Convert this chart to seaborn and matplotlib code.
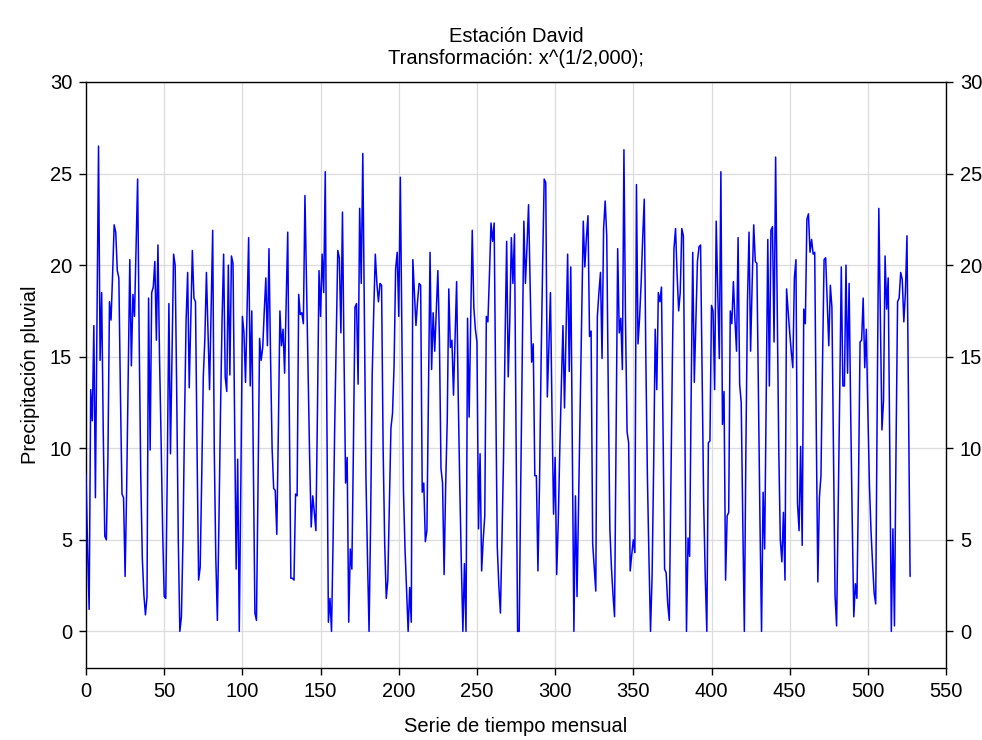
import numpy as np
import pandas as pd
import matplotlib
matplotlib.use("Agg")
import matplotlib.pyplot as plt
import seaborn as sns

# Monthly series (square-root transformed precipitation), one row per year
year_values = [
    [8.6, 4.5, 1.2, 13.2, 11.5, 16.7, 7.3, 17.0, 26.5, 14.8, 18.5, 11.0],
    [5.2, 5.0, 9.5, 18.0, 17.0, 19.5, 22.2, 21.8, 19.7, 19.3, 13.0, 7.5],
    [7.3, 3.0, 7.9, 14.0, 20.3, 14.5, 18.4, 17.2, 21.0, 24.7, 16.0, 8.5],
    [4.0, 2.0, 0.9, 1.9, 18.2, 9.9, 18.5, 18.8, 20.2, 15.9, 21.1, 15.0],
    [10.5, 5.5, 1.9, 1.8, 9.0, 17.9, 9.7, 15.0, 20.6, 20.0, 13.0, 5.0],
    [0.0, 0.8, 5.0, 11.5, 17.0, 19.6, 13.3, 17.0, 20.8, 18.2, 18.0, 10.0],
    [2.8, 3.5, 8.5, 13.9, 16.0, 19.6, 16.5, 13.2, 17.5, 21.9, 10.0, 4.0],
    [0.6, 6.0, 12.0, 17.0, 20.6, 13.9, 13.1, 20.0, 14.0, 20.5, 20.1, 12.0],
    [3.4, 9.4, 0.0, 8.0, 17.2, 16.3, 13.6, 17.5, 21.5, 13.4, 17.5, 9.0],
    [1.0, 0.6, 8.0, 16.0, 14.8, 15.5, 17.5, 19.3, 15.6, 20.9, 15.0, 10.0],
    [7.8, 7.7, 5.3, 11.0, 17.5, 15.6, 16.5, 14.1, 18.0, 21.8, 12.0, 2.9],
    [2.9, 2.8, 7.5, 7.4, 18.4, 17.3, 17.4, 16.8, 23.8, 19.0, 14.0, 9.5],
    [5.7, 7.4, 6.5, 5.5, 12.0, 19.7, 17.2, 20.6, 18.5, 25.1, 12.0, 0.5],
    [1.8, 0.0, 5.0, 11.0, 16.0, 20.8, 20.4, 16.3, 22.9, 15.0, 8.1, 9.5],
    [0.5, 4.5, 3.4, 10.0, 17.7, 17.9, 13.5, 23.1, 19.0, 26.1, 17.0, 8.5],
    [4.0, 0.0, 6.0, 14.0, 17.5, 20.6, 19.0, 18.0, 19.0, 18.9, 10.0, 4.8],
    [1.8, 2.8, 7.0, 11.1, 11.9, 14.5, 19.8, 20.7, 17.2, 24.8, 16.0, 7.7],
    [4.5, 2.3, 0.0, 2.4, 0.5, 20.3, 18.5, 16.7, 18.0, 19.0, 18.9, 7.6],
    [8.1, 4.9, 5.5, 13.0, 20.7, 14.3, 17.4, 15.3, 17.5, 19.7, 16.0, 8.9],
    [8.1, 3.1, 8.0, 11.5, 18.7, 15.5, 15.9, 12.9, 16.0, 19.1, 13.0, 8.0],
    [3.8, 0.0, 3.7, 0.0, 17.1, 11.7, 17.0, 21.9, 17.7, 16.5, 15.8, 5.6],
    [9.7, 3.3, 5.0, 6.3, 17.2, 16.9, 19.5, 22.3, 21.3, 22.3, 13.0, 4.6],
    [2.5, 1.0, 5.0, 9.5, 16.0, 21.3, 13.9, 17.0, 21.5, 19.0, 21.7, 11.0],
    [0.0, 0.0, 8.0, 15.0, 22.4, 19.0, 21.0, 23.3, 19.0, 14.7, 15.7, 8.5],
    [8.5, 3.3, 8.0, 14.6, 20.0, 24.7, 24.5, 12.8, 15.5, 18.5, 12.0, 6.4],
    [9.5, 3.1, 6.0, 10.0, 13.5, 16.7, 12.2, 16.5, 20.6, 14.2, 19.9, 10.0],
    [0.0, 7.4, 1.9, 7.0, 12.0, 17.0, 22.4, 19.9, 21.5, 22.7, 16.1, 16.4],
    [4.8, 3.5, 2.2, 17.2, 18.5, 19.6, 14.9, 22.0, 23.5, 21.6, 13.0, 5.6],
    [3.5, 2.0, 0.8, 11.0, 20.9, 16.3, 17.1, 14.3, 26.3, 17.0, 10.9, 10.3],
    [3.3, 4.2, 5.0, 4.3, 24.4, 15.7, 17.1, 19.0, 21.5, 23.6, 15.0, 8.5],
    [4.0, 0.0, 3.0, 9.0, 16.5, 13.2, 18.5, 18.0, 18.8, 11.0, 3.4, 3.2],
    [1.5, 0.6, 8.0, 15.0, 20.9, 22.0, 19.5, 17.5, 18.5, 22.0, 21.6, 11.0],
    [0.0, 5.1, 4.1, 13.0, 20.7, 13.6, 17.0, 20.2, 21.0, 21.1, 14.0, 7.0],
    [3.0, 0.0, 10.3, 10.4, 17.8, 17.5, 13.2, 22.4, 18.5, 14.9, 25.1, 11.3],
    [13.1, 2.8, 6.3, 6.5, 17.5, 16.8, 19.1, 17.0, 15.3, 21.5, 13.5, 12.5],
    [6.0, 0.0, 10.0, 18.0, 21.8, 15.3, 19.0, 22.2, 20.2, 20.1, 13.0, 6.0],
    [0.0, 7.6, 4.5, 13.0, 21.4, 13.4, 21.9, 22.1, 15.8, 25.9, 18.0, 10.0],
    [5.0, 3.8, 6.5, 2.8, 18.7, 17.5, 16.3, 15.3, 14.4, 19.3, 20.3, 7.0],
    [5.5, 10.1, 4.7, 17.6, 16.8, 22.5, 22.8, 20.7, 21.4, 20.6, 20.7, 11.0],
    [2.7, 7.3, 8.5, 14.7, 20.3, 20.4, 18.0, 15.6, 18.9, 17.7, 10.0, 2.0],
    [0.3, 6.5, 13.0, 19.9, 13.4, 13.4, 20.0, 14.1, 19.0, 12.0, 6.0, 0.8],
    [2.6, 1.8, 8.0, 15.8, 15.9, 18.2, 14.4, 16.5, 12.0, 8.0, 5.5, 3.7],
    [2.1, 1.5, 12.7, 23.1, 17.0, 11.0, 12.6, 20.5, 17.6, 19.3, 10.0, 0.0],
    [5.6, 0.3, 10.0, 18.0, 18.2, 19.6, 19.2, 16.9, 18.5, 21.6, 12.0, 3.0],
]

x_ticks = list(range(0, 551, 50))
y_ticks = list(range(0, 31, 5))

title_1 = "Estación David"
title_2 = "Transformación: x^(1/2,000);"
x_label = "Serie de tiempo mensual"
y_label = "Precipitación pluvial"

values = [v for row in year_values for v in row]
df = pd.DataFrame({"mes": np.arange(len(values)), "valor": values})

sns.set_style("white")
plt.rcParams["font.family"] = ["Liberation Sans", "DejaVu Sans"]
plt.rcParams["text.color"] = "black"

FS = 14.5

fig = plt.figure(figsize=(9.82, 7.40), dpi=100)
ax = fig.add_axes([0.0876, 0.0973, 0.8758, 0.7919])

ax.grid(True, color="#dcdcdc", linewidth=0.9)
ax.set_axisbelow(True)

sns.lineplot(data=df, x="mes", y="valor", ax=ax, color="#0000ff",
             linewidth=1.1, estimator=None, zorder=3)

ax.set_xlim(0, 550)
ax.set_ylim(-2, 30)
ax.set_xticks(x_ticks)
ax.set_yticks(y_ticks)
ax.set_xlabel("")
ax.set_ylabel("")

for spine in ax.spines.values():
    spine.set_color("black")
    spine.set_linewidth(1.0)

ax.tick_params(axis="both", which="major", direction="out", length=5,
               width=1, color="black", labelsize=FS, labelcolor="black",
               left=True, bottom=True, right=True, labelright=True,
               top=False, pad=5)

fig.text(0.5255, 0.951, title_1, ha="center", va="center", fontsize=FS,
         color="black")
fig.text(0.5255, 0.921, title_2, ha="center", va="center", fontsize=FS,
         color="black")
fig.text(0.5255, 0.018, x_label, ha="center", va="center", fontsize=FS,
         color="black")
fig.text(0.031, 0.493, y_label, ha="center", va="center", fontsize=FS,
         rotation=90, color="black")

fig.savefig("out.png", dpi=100, facecolor="white")
